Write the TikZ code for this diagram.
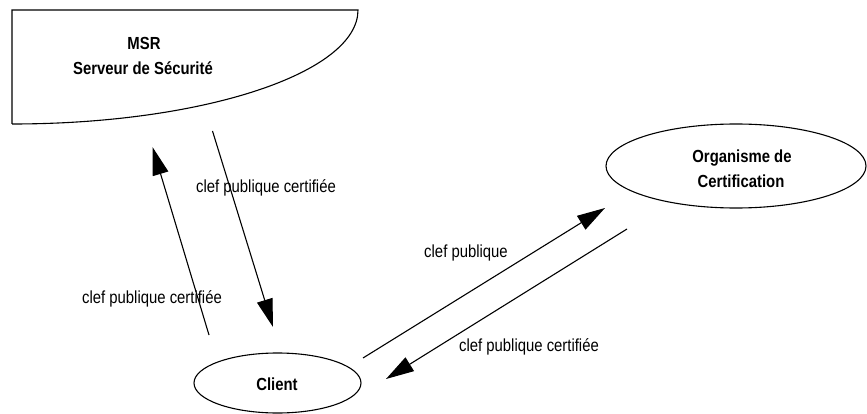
\documentclass[tikz,border=0pt]{standalone}
\usepackage{fontspec}
\setmainfont[FakeStretch=0.85]{Liberation Sans}
\usetikzlibrary{arrows.meta,shapes.geometric}
\tikzset{
  line/.style={line width=1.1pt, black},
  arr/.style={line, -{Triangle[length=28pt,width=16pt]}},
  lbl/.style={font=\fontsize{17.5}{21}\selectfont, anchor=base, inner sep=0pt},
  blbl/.style={font=\fontsize{17.5}{21}\selectfont\bfseries, anchor=base, inner sep=0pt},
  oval/.style={ellipse, draw, line width=1.1pt, inner sep=0pt}
}
\begin{document}
\begin{tikzpicture}[x=1pt,y=-1pt]
\useasboundingbox (0,0) rectangle (867,414);
% MSR shape
\draw[line] (12,124) -- (12,10) -- (358,10) arc[start angle=0,end angle=90,x radius=346,y radius=114];
\node[blbl] (msr1) at (144,50) {MSR};
\node[blbl] (msr2) at (143,75) {Serveur de Sécurité};
% ellipses
\node[oval, minimum width=167pt, minimum height=60pt] (client) at (277.5,383) {};
\node[blbl] (clienttxt) at (277,390) {Client};
\node[oval, minimum width=260pt, minimum height=84pt] (org) at (736,166) {};
\node[blbl] (org1) at (742,163) {Organisme de};
\node[blbl] (org2) at (741,188) {Certification};
% arrow end points
\coordinate (a1s) at (209,335);
\coordinate (a1e) at (152.5,147);
\coordinate (a2s) at (212.5,131);
\coordinate (a2e) at (273,327);
\coordinate (a3s) at (363,358);
\coordinate (a3e) at (605,208);
\coordinate (a4s) at (627,229);
\coordinate (a4e) at (386,379);
\draw[arr] (a1s) -- (a1e);
\draw[arr] (a2s) -- (a2e);
\draw[arr] (a3s) -- (a3e);
\draw[arr] (a4s) -- (a4e);
% labels
\node[lbl] (l1) at (266,193) {clef publique certifiée};
\node[lbl] (l2) at (152,303) {clef publique certifiée};
\node[lbl] (l3) at (466,257) {clef publique};
\node[lbl] (l4) at (529,351) {clef publique certifiée};
\end{tikzpicture}
\end{document}
